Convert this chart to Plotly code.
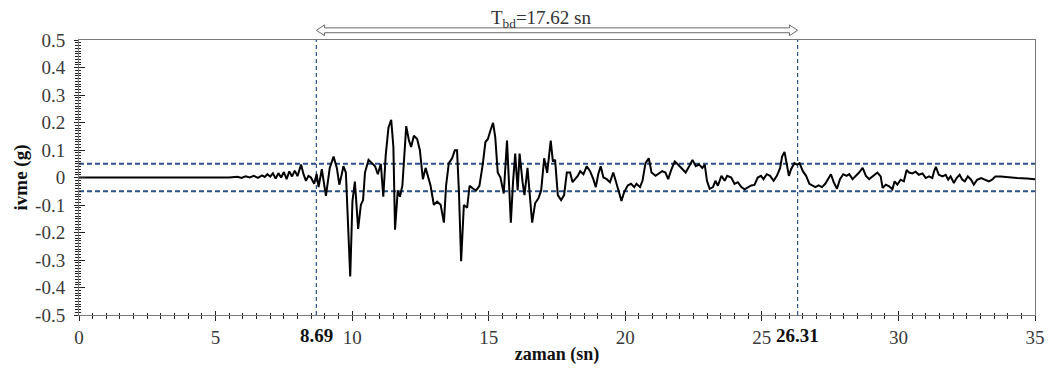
import plotly.graph_objects as go

# Ground acceleration record (time in s, acceleration in g)
t_s = [0, 1, 2, 3, 4, 5, 5.5, 5.8, 5.95, 6.1, 6.25, 6.4, 6.55, 6.7, 6.8, 6.9, 7.0, 7.1, 7.2, 7.3,
       7.4, 7.5, 7.6, 7.7, 7.8, 7.9, 8.0, 8.13, 8.22, 8.31, 8.4, 8.49, 8.61, 8.70, 8.77, 8.89, 9.04,
       9.18, 9.32, 9.44, 9.53, 9.62, 9.68, 9.77, 9.93, 10.01, 10.10, 10.22, 10.32, 10.40, 10.47,
       10.60, 10.72, 10.84, 10.94, 11.05, 11.14, 11.23, 11.33, 11.43, 11.51, 11.57, 11.67, 11.75,
       11.84, 11.92, 11.98, 12.08, 12.16, 12.26, 12.38, 12.48, 12.59, 12.69, 12.79, 12.87, 12.99,
       13.11, 13.24, 13.36, 13.44, 13.54, 13.66, 13.76, 13.84, 13.91, 13.99, 14.09, 14.21, 14.30,
       14.42, 14.54, 14.66, 14.78, 14.88, 14.97, 15.06, 15.16, 15.24, 15.33, 15.43, 15.55, 15.67,
       15.73, 15.81, 15.89, 15.97, 16.06, 16.13, 16.24, 16.31, 16.42, 16.52, 16.59, 16.70, 16.82,
       16.92, 17.03, 17.14, 17.27, 17.35, 17.43, 17.53, 17.65, 17.76, 17.86, 17.98, 18.07, 18.16,
       18.26, 18.35, 18.47, 18.59, 18.71, 18.83, 18.92, 19.01, 19.10, 19.20, 19.32, 19.44, 19.56,
       19.68, 19.78, 19.86, 19.96, 20.09, 20.21, 20.33, 20.41, 20.54, 20.63, 20.74, 20.86, 20.96,
       21.11, 21.20, 21.35, 21.47, 21.57, 21.69, 21.81, 21.93, 22.05, 22.21, 22.34, 22.46, 22.58,
       22.70, 22.82, 22.91, 22.99, 23.09, 23.21, 23.30, 23.39, 23.52, 23.64, 23.73, 23.88, 24.00,
       24.12, 24.25, 24.37, 24.49, 24.61, 24.73, 24.85, 24.97, 25.06, 25.18, 25.30, 25.43, 25.55,
       25.67, 25.74, 25.83, 25.91, 25.99, 26.07, 26.19, 26.29, 26.38, 26.50, 26.62, 26.74, 26.84,
       26.96, 27.08, 27.20, 27.32, 27.45, 27.53, 27.63, 27.75, 27.86, 27.98, 28.10, 28.20, 28.32,
       28.44, 28.56, 28.69, 28.81, 28.93, 29.09, 29.23, 29.35, 29.42, 29.54, 29.66, 29.78, 29.86,
       29.96, 30.08, 30.20, 30.30, 30.39, 30.51, 30.63, 30.75, 30.88, 31.00, 31.12, 31.24, 31.30,
       31.37, 31.48, 31.61, 31.73, 31.82, 31.91, 32.03, 32.13, 32.24, 32.34, 32.43, 32.54, 32.66,
       32.76, 32.88, 33.03, 33.15, 33.31, 33.43, 33.55, 33.74, 33.98, 34.34, 34.71, 35.0]

a_g = [0.0, 0.0, 0.0, 0.0, 0.0, 0.001, 0.0, 0.003, -0.002, 0.004, 0.0, 0.006, -0.001, 0.008, 0.002,
       0.012, 0.003, 0.015, -0.004, 0.016, 0.0, 0.02, -0.006, 0.022, 0.004, 0.025, 0.005, 0.047,
       0.012, -0.012, 0.006, 0.0, -0.023, 0.013, -0.035, 0.03, -0.067, 0.035, 0.076, 0.035, -0.026,
       0.012, 0.041, 0.018, -0.36, -0.088, -0.015, -0.187, -0.099, -0.082, 0.018, 0.064, 0.053,
       0.041, 0.012, 0.05, -0.07, 0.082, 0.181, 0.21, 0.111, -0.19, -0.047, -0.07, -0.029, 0.087,
       0.187, 0.135, 0.111, 0.152, 0.14, 0.099, -0.006, 0.035, 0.0, -0.029, -0.099, -0.088, -0.099,
       -0.164, -0.029, 0.052, 0.07, 0.099, 0.099, -0.053, -0.304, -0.1, -0.11, -0.03, -0.04, -0.047,
       -0.03, 0.047, 0.129, 0.14, 0.17, 0.199, 0.146, 0.018, 0.0, -0.058, 0.134, 0.018, -0.164,
       -0.017, 0.087, -0.047, 0.087, -0.017, -0.064, 0.035, -0.1, -0.164, -0.093, -0.076, -0.047,
       0.07, 0.017, 0.134, 0.058, 0.064, -0.064, -0.082, -0.064, 0.018, 0.018, -0.017, -0.006,
       0.006, 0.023, 0.012, 0.041, 0.023, -0.006, -0.035, 0.012, 0.041, 0.0, -0.006, -0.017, 0.018,
       -0.023, -0.053, -0.085, -0.053, -0.029, -0.023, -0.035, -0.023, -0.035, -0.012, 0.052, 0.07,
       0.018, 0.006, 0.012, 0.023, 0.018, -0.006, 0.03, 0.058, 0.047, 0.035, 0.018, 0.041, 0.064,
       0.041, 0.047, 0.035, 0.047, -0.012, -0.041, -0.035, -0.012, -0.03, 0.006, -0.012, 0.006,
       0.0, -0.023, -0.017, -0.035, -0.043, -0.035, -0.029, -0.027, 0.0, 0.006, -0.006, 0.012,
       0.006, -0.012, 0.006, 0.035, 0.076, 0.093, 0.052, 0.006, 0.03, 0.052, 0.047, 0.052, 0.023,
       0.006, -0.023, -0.029, -0.035, -0.029, -0.035, -0.023, 0.0, 0.012, -0.017, -0.041, -0.006,
       0.012, 0.006, 0.012, -0.006, 0.006, 0.018, 0.035, 0.006, -0.006, 0.006, 0.018, 0.004, -0.038,
       -0.026, -0.032, -0.043, -0.014, -0.026, -0.008, -0.014, 0.027, 0.018, 0.015, 0.021, 0.01,
       0.015, -0.002, 0.004, -0.002, 0.021, 0.039, 0.01, 0.004, 0.01, -0.008, 0.004, -0.02, -0.002,
       0.01, -0.008, -0.014, 0.004, -0.008, -0.026, -0.008, -0.002, -0.008, -0.014, -0.008, 0.004,
       0.004, 0.001, -0.002, -0.004, -0.006]

# Strong-motion (bracketed) duration limits and threshold
t_start = 8.69
t_end = 26.31
threshold = 0.05

x_ticks = [0, 5, 10, 15, 20, 25, 30, 35]
y_ticks = [-0.5, -0.4, -0.3, -0.2, -0.1, 0, 0.1, 0.2, 0.3, 0.4, 0.5]
y_tick_text = ["-0.5", "-0.4", "-0.3", "-0.2", "-0.1", "0", "0.1", "0.2", "0.3", "0.4", "0.5"]

SERIF = "Liberation Serif"
NAVY = "#2b4f86"
LINE = "#7a7a7a"
TICK_GREY = "#3a3a3a"

fig = go.Figure()

fig.add_trace(go.Scatter(x=t_s, y=a_g, mode="lines",
                         line=dict(color="black", width=2),
                         showlegend=False, hoverinfo="skip"))
# empty trace so the overlay axes (inner half of the tick marks) get drawn
fig.add_trace(go.Scatter(x=[None], y=[None], xaxis="x2", yaxis="y2",
                         showlegend=False, hoverinfo="skip"))

# threshold lines at +/- 0.05 g
for yv in (threshold, -threshold):
    fig.add_shape(type="line", xref="x", yref="y", x0=0, x1=35, y0=yv, y1=yv,
                  line=dict(color=NAVY, width=2, dash="5px,3px"), layer="below")
# bracketed duration bounds
for xv in (t_start, t_end):
    fig.add_shape(type="line", xref="x", yref="y", x0=xv, x1=xv, y0=-0.5, y1=0.5,
                  line=dict(color=NAVY, width=1.2, dash="4px,3px"), layer="below")

# hollow double-headed arrow above the plot spanning the bracketed duration
yc, half_shaft, half_head, head_len = 1.0353, 0.0088, 0.0195, 0.3
xa, xb = t_start, t_end
path = (f"M {xa},{yc} L {xa + head_len},{yc + half_head} L {xa + head_len},{yc + half_shaft} "
        f"L {xb - head_len},{yc + half_shaft} L {xb - head_len},{yc + half_head} L {xb},{yc} "
        f"L {xb - head_len},{yc - half_head} L {xb - head_len},{yc - half_shaft} "
        f"L {xa + head_len},{yc - half_shaft} L {xa + head_len},{yc - half_head} Z")
fig.add_shape(type="path", xref="x", yref="paper", path=path,
              line=dict(color="#6b6b6b", width=1), fillcolor="white")

fig.add_annotation(x=(t_start + t_end) / 2 - 0.55, y=1.0, xref="x", yref="paper",
                   yshift=7, yanchor="bottom", showarrow=False,
                   text=f"T<sub>bd</sub>={t_end - t_start:.2f} sn",
                   font=dict(family=SERIF, size=19, color="#333333"))

# bold labels for the duration bounds on the time axis
for xv in (t_start, t_end):
    fig.add_annotation(x=xv, y=0, xref="x", yref="paper", yshift=-8, yanchor="top",
                       showarrow=False, text=f"<b>{xv:.2f}</b>",
                       font=dict(family=SERIF, size=19, color="#111111"))

fig.update_layout(
    width=1057, height=372,
    margin=dict(l=79, r=19, t=40, b=49),
    paper_bgcolor="white", plot_bgcolor="white",
    font=dict(family=SERIF, size=19, color=TICK_GREY),
    xaxis=dict(range=[0, 35], tickvals=x_ticks, ticks="outside", ticklen=5, tickwidth=1.2,
               tickcolor="#222222", showgrid=False, zeroline=False,
               showline=True, linecolor=LINE, linewidth=1, mirror=True,
               minor=dict(dtick=0.5, ticks="outside", ticklen=3, tickcolor="#222222", tickwidth=1.2),
               tickfont=dict(family=SERIF, size=19, color=TICK_GREY),
               title=dict(text="<b>zaman (sn)</b>", standoff=0,
                          font=dict(family=SERIF, size=18, color="#111111"))),
    yaxis=dict(range=[-0.5, 0.5], tickvals=y_ticks, ticktext=y_tick_text, ticks="outside",
               ticklen=4, tickwidth=1.2, tickcolor="#222222", showgrid=False, zeroline=False,
               showline=True, linecolor=LINE, linewidth=1, mirror=True, ticklabelstandoff=5,
               minor=dict(dtick=0.01, ticks="outside", ticklen=3, tickcolor="#222222", tickwidth=1),
               tickfont=dict(family=SERIF, size=19, color=TICK_GREY),
               title=dict(text="<b>ivme (g)</b>", standoff=2,
                          font=dict(family=SERIF, size=19, color="#111111"))),
    xaxis2=dict(range=[0, 35], overlaying="x", anchor="y2", side="bottom",
                tickvals=x_ticks, showticklabels=False, ticks="inside", ticklen=4,
                tickwidth=1.2, tickcolor="#222222", showgrid=False, zeroline=False, showline=False,
                minor=dict(dtick=0.5, ticks="inside", ticklen=2, tickcolor="#222222", tickwidth=1.2)),
    yaxis2=dict(range=[-0.5, 0.5], overlaying="y", anchor="x2", side="left",
                tickvals=y_ticks, showticklabels=False, ticks="inside", ticklen=6,
                tickwidth=1.2, tickcolor="#222222", showgrid=False, zeroline=False, showline=False,
                minor=dict(dtick=0.01, ticks="inside", ticklen=2, tickcolor="#222222", tickwidth=1)),
)

fig.write_html("out.html")
